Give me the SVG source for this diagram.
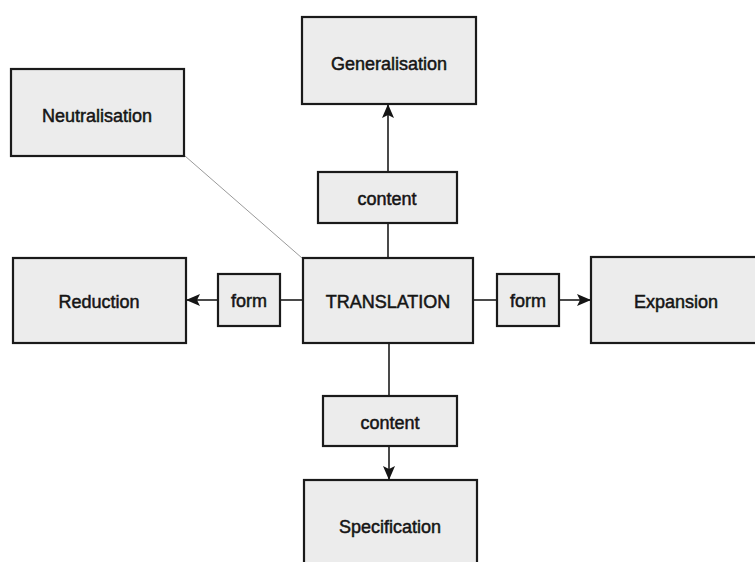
<svg xmlns="http://www.w3.org/2000/svg" width="755" height="562" viewBox="0 0 755 562">
<defs>
<marker id="arr" viewBox="0 0 14 12" refX="13" refY="6" markerWidth="14" markerHeight="12" markerUnits="userSpaceOnUse" orient="auto">
<path d="M0,0 L14,6 L0,12 L3,6 Z" fill="#151515"/>
</marker>
</defs>
<style>
.box{fill:#ececec;stroke:#1a1a1a;stroke-width:2.2}
.lbl{font-family:"Liberation Sans",Arial,sans-serif;font-size:18px;fill:#151515;text-anchor:middle;stroke:#151515;stroke-width:0.5}
.con{stroke:#2a2a2a;stroke-width:1.7;fill:none}
.thin{stroke:#9a9a9a;stroke-width:1;fill:none}
</style>
<rect width="755" height="562" fill="#ffffff"/>
<g id="connectors">
<line class="thin" x1="185" y1="156" x2="302" y2="258"/>
<line class="con" x1="388" y1="258" x2="388" y2="223"/>
<line class="con" x1="388" y1="172" x2="388" y2="105" marker-end="url(#arr)"/>
<line class="con" x1="303" y1="300" x2="280" y2="300"/>
<line class="con" x1="218" y1="300" x2="187" y2="300" marker-end="url(#arr)"/>
<line class="con" x1="473" y1="300" x2="497" y2="300"/>
<line class="con" x1="559" y1="300" x2="590" y2="300" marker-end="url(#arr)"/>
<line class="con" x1="389" y1="343" x2="389" y2="396"/>
<line class="con" x1="389" y1="446" x2="389" y2="479" marker-end="url(#arr)"/>
</g>
<g id="generalisation">
<rect class="box" x="302" y="17" width="174" height="87"/>
<text class="lbl" x="389" y="70">Generalisation</text>
</g>
<g id="neutralisation">
<rect class="box" x="11" y="69" width="173" height="87"/>
<text class="lbl" x="97" y="122">Neutralisation</text>
</g>
<g id="content-top">
<rect class="box" x="318" y="172" width="139" height="51"/>
<text class="lbl" x="387" y="205">content</text>
</g>
<g id="reduction">
<rect class="box" x="13" y="258" width="173" height="85"/>
<text class="lbl" x="99" y="308">Reduction</text>
</g>
<g id="form-left">
<rect class="box" x="218" y="274" width="62" height="52"/>
<text class="lbl" x="249" y="307">form</text>
</g>
<g id="translation">
<rect class="box" x="303" y="258" width="170" height="85"/>
<text class="lbl" x="388" y="308">TRANSLATION</text>
</g>
<g id="form-right">
<rect class="box" x="497" y="274" width="62" height="52"/>
<text class="lbl" x="528" y="307">form</text>
</g>
<g id="expansion">
<rect class="box" x="591" y="257" width="170" height="86"/>
<text class="lbl" x="676" y="308">Expansion</text>
</g>
<g id="content-bottom">
<rect class="box" x="323" y="396" width="134" height="50"/>
<text class="lbl" x="390" y="429">content</text>
</g>
<g id="specification">
<rect class="box" x="304" y="480" width="173" height="90"/>
<text class="lbl" x="390" y="533">Specification</text>
</g>
</svg>
